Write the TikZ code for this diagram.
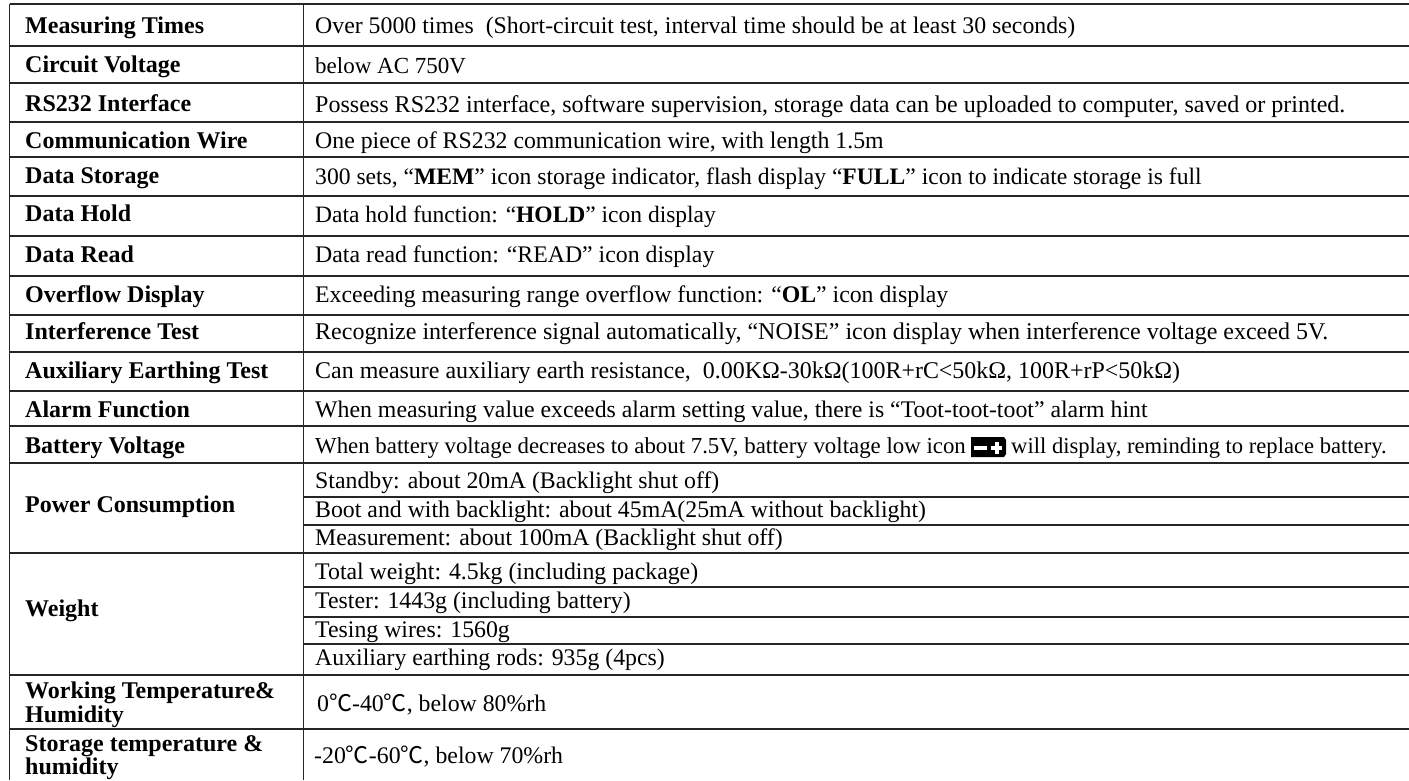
\documentclass[tikz,border=0pt]{standalone}
\usepackage{fontspec}
\setmainfont{Liberation Serif}
\newfontfamily\cjk{Noto Sans CJK SC}
\newcommand{\degc}{{\cjk\fontsize{23}{23}\selectfont ℃}}
\tikzset{
 rule/.style={line width=1.3pt,color=black!85},
 lab/.style={anchor=base west,inner sep=0pt,font=\fontsize{24}{24}\selectfont\bfseries},
 val/.style={anchor=base west,inner sep=0pt,font=\fontsize{#1}{#1}\selectfont},
 val/.default=23.8,
}
\begin{document}
\begin{tikzpicture}[x=1pt,y=-1pt]
\useasboundingbox (0,0) rectangle (1409,780);
\fill[white] (0,0) rectangle (1409,780);
% grid
\foreach \y in {4,46,83,122,157,196,236,276,315,352,391,426,463,553,675,729}
  \draw[rule] (9.5,\y) -- (1409,\y);
\foreach \y in {497,525,587,617,644}
  \draw[rule] (303.5,\y) -- (1409,\y);
\draw[rule] (9.5,4) -- (9.5,780);
\draw[rule] (303.5,4) -- (303.5,780);
% labels
\node[lab] (l1) at (25,33) {Measuring Times};
\node[lab] (l2) at (25,72) {Circuit Voltage};
\node[lab] (l3) at (25,111) {RS232 Interface};
\node[lab] (l4) at (25,148) {Communication Wire};
\node[lab] (l5) at (25,183) {Data Storage};
\node[lab] (l6) at (25,221) {Data Hold};
\node[lab] (l7) at (25,262) {Data Read};
\node[lab] (l8) at (25,302) {Overflow Display};
\node[lab] (l9) at (25,339) {Interference Test};
\node[lab] (l10) at (25,378) {Auxiliary Earthing Test};
\node[lab] (l11) at (25,417) {Alarm Function};
\node[lab] (l12) at (25,453) {Battery Voltage};
\node[lab] (l13) at (25,512) {Power Consumption};
\node[lab] (l14) at (25,616) {Weight};
\node[lab] (l15) at (25,698) {Working Temperature\&};
\node[lab] (l15b) at (25,722) {Humidity};
\node[lab] (l16) at (25,751) {Storage temperature \&};
\node[lab] (l16b) at (25,774) {humidity};
% values
\node[val] (v1) at (315,33) {Over 5000 times\ \ (Short-circuit test, interval time should be at least 30 seconds)};
\node[val=23.0] (v2) at (315,73) {below AC 750V};
\node[val=24.05] (v3) at (315,112) {Possess RS232 interface, software supervision, storage data can be uploaded to computer, saved or printed.};
\node[val] (v4) at (315,148) {One piece of RS232 communication wire, with length 1.5m};
\node[val=23.6] (v5) at (315,184) {300 sets, “\textbf{MEM}” icon storage indicator, flash display “\textbf{FULL}” icon to indicate storage is full};
\node[val=23.5] (v6) at (315,222) {Data hold function: “\textbf{HOLD}” icon display};
\node[val] (v7) at (315,262) {Data read function: “READ” icon display};
\node[val] (v8) at (315,302) {Exceeding measuring range overflow function: “\textbf{OL}” icon display};
\node[val=24] (v9) at (315,339) {Recognize interference signal automatically, “NOISE” icon display when interference voltage exceed 5V.};
\node[val=23.95] (v10) at (315,378) {Can measure auxiliary earth resistance,\ \ 0.00KΩ-30kΩ(100R+rC<50kΩ, 100R+rP<50kΩ)};
\node[val] (v11) at (315,417) {When measuring value exceeds alarm setting value, there is “Toot-toot-toot” alarm hint};
\node[val=22.85] (v12) at (315,453) {When battery voltage decreases to about 7.5V, battery voltage low icon};
\fill[black] (971,437) -- (1004,437) -- (1006,440) -- (1006,454) -- (1004,457) -- (971,457) -- cycle;
\fill[white] (974,446) rectangle (987,450);
\fill[white] (991,446) rectangle (1002,450);
\fill[white] (994.5,442) rectangle (998.5,454);
\node[val=22.6] (v12b) at (1011,453) {will display, reminding to replace battery.};
\node[val] (v13) at (315,488) {Standby: about 20mA (Backlight shut off)};
\node[val] (v14) at (315,517) {Boot and with backlight: about 45mA(25mA without backlight)};
\node[val] (v15) at (315,545) {Measurement: about 100mA (Backlight shut off)};
\node[val] (v16) at (315,579) {Total weight: 4.5kg (including package)};
\node[val] (v17) at (315,608) {Tester: 1443g (including battery)};
\node[val] (v18) at (315,637) {Tesing wires: 1560g};
\node[val] (v19) at (315,665) {Auxiliary earthing rods: 935g (4pcs)};
\node[val] (v20) at (317,711) {0\degc-40\degc, below 80\%rh};
\node[val] (v21) at (314,763) {-20\degc-60\degc, below 70\%rh};
\end{tikzpicture}
\end{document}
